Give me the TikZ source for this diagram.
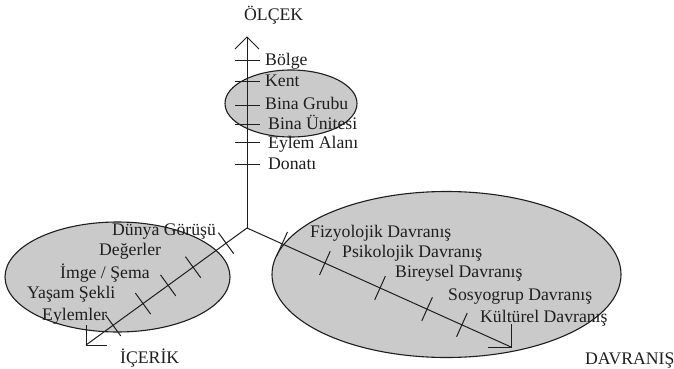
\documentclass[tikz,border=0pt]{standalone}
\usepackage{fontspec}
\setmainfont{Liberation Serif}
\usetikzlibrary{calc}
\definecolor{ink}{RGB}{30,30,30}
\definecolor{fillgray}{RGB}{202,202,202}
\begin{document}
\begin{tikzpicture}[x=1pt,y=-1pt,
  zone/.style={draw=ink, line width=1.1pt, fill=fillgray},
  axisline/.style={draw=ink, line width=1pt},
  tickline/.style={draw=ink, line width=1pt},
  lbl/.style={anchor=base west, inner sep=0pt, text=ink, font=\fontsize{17.7}{20}\selectfont},
  headlbl/.style={anchor=base west, inner sep=0pt, text=ink, font=\fontsize{17.7}{20}\selectfont}]
\useasboundingbox (0,0) rectangle (674,369);
\fill[white] (0,0) rectangle (674,369);
% zones
\draw[zone] (291,103.5) ellipse [x radius=66, y radius=33.5];
\draw[zone] (117.5,277) ellipse [x radius=112.5, y radius=55];
\draw[zone] (446.5,274.5) ellipse [x radius=174.5, y radius=83];
% axes
\coordinate (O) at (247,228);
\coordinate (tipV) at (247,37);
\coordinate (tipI) at (86,345);
\coordinate (tipD) at (511,347);
\draw[axisline] (O) -- (tipV);
\draw[axisline] (O) -- (tipI);
\draw[axisline] (O) -- (tipD);
% arrow heads
\draw[axisline] ($(tipV)+(-12,12)$) -- (tipV) -- ($(tipV)+(12,12)$);
\draw[axisline] ($(tipI)+(0,-20)$) -- (tipI) -- ($(tipI)+(21,0)$);
\draw[axisline] ($(tipD)+(0,-23)$) -- (tipD) -- ($(tipD)+(-23,0)$);
% ticks on vertical axis
\foreach \yy in {61,81,105,124,142,164}{
  \draw[tickline] (235,\yy) -- (260,\yy);
}
% ticks on IÇERIK axis
\foreach \t in {0.130,0.335,0.49,0.646,0.832}{
  \coordinate (k) at ($(O)!\t!(tipI)$);
  \draw[tickline] ($(k)!13pt!90:(tipI)$) -- ($(k)!13pt!-90:(tipI)$);
}
% ticks on DAVRANIŞ axis
\foreach \t in {0.133,0.295,0.504,0.682,0.814}{
  \coordinate (k) at ($(O)!\t!(tipD)$);
  \draw[tickline] ($(k)!13pt!90:(tipD)$) -- ($(k)!13pt!-90:(tipD)$);
}
% headings
\node[headlbl] (hV) at (244,21) {ÖLÇEK};
\node[headlbl] (hI) at (120,363) {İÇERİK};
\node[headlbl] (hD) at (585,364) {DAVRANIŞ};
% scale labels
\node[lbl] (v1) at (265,65) {Bölge};
\node[lbl] (v2) at (265,86) {Kent};
\node[lbl] (v3) at (265,109) {Bina Grubu};
\node[lbl] (v4) at (268,129) {Bina Ünitesi};
\node[lbl] (v5) at (268,148) {Eylem Alanı};
\node[lbl] (v6) at (268,169) {Donatı};
% content labels
\node[lbl] (i1) at (112,235) {Dünya Görüşü};
\node[lbl] (i2) at (99,255) {Değerler};
\node[lbl] (i3) at (60,278) {İmge / Şema};
\node[lbl] (i4) at (27,298) {Yaşam Şekli};
\node[lbl] (i5) at (42,320) {Eylemler};
% behaviour labels
\node[lbl] (d1) at (310,237) {Fizyolojik Davranış};
\node[lbl] (d2) at (342,257) {Psikolojik Davranış};
\node[lbl] (d3) at (395,277) {Bireysel Davranış};
\node[lbl] (d4) at (448,300) {Sosyogrup Davranış};
\node[lbl] (d5) at (480,322) {Kültürel Davranış};
\end{tikzpicture}
\end{document}
